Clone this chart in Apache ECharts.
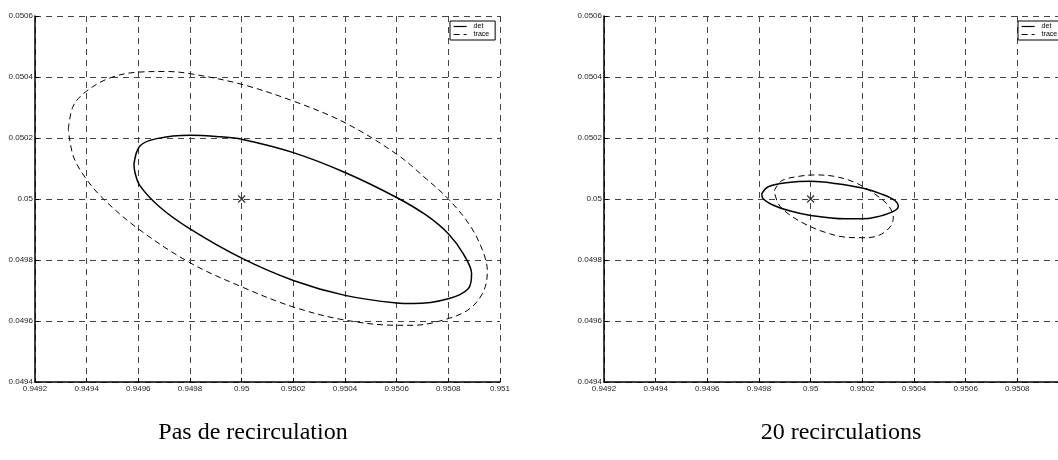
<!DOCTYPE html>
<html>
<head>
<meta charset="utf-8">
<title>Ellipses de confiance</title>
<script src="https://cdn.jsdelivr.net/npm/echarts@6/dist/echarts.min.js"></script>
<style>
  html, body { margin: 0; padding: 0; background: #fff; }
  #chart { width: 1058px; height: 460px; }
</style>
</head>
<body>
<div id="chart"></div>
<script>
// Axis ranges and tick step (both panels share them)
const xRange = [0.9492, 0.951];
const yRange = [0.0494, 0.0506];
const tickStep = 0.0002;

// Panel titles
const panelTitles = ['Pas de recirculation', '20 recirculations'];
const seriesNames = ['det', 'trace'];

// Nominal operating point
const nominalPoint = [0.95, 0.05];

// Panel 1: no recirculation — "det" ellipse (closed contour)
const detNoRecirc = [
  [0.949583, 0.050114], [0.949606, 0.050174], [0.949671, 0.050198], [0.949800, 0.050209],
  [0.949916, 0.050204], [0.950000, 0.050196], [0.950200, 0.050152], [0.950400, 0.050087],
  [0.950600, 0.050005], [0.950716, 0.049946], [0.950800, 0.049886], [0.950858, 0.049820],
  [0.950890, 0.049755], [0.950877, 0.049706], [0.950800, 0.049673], [0.950665, 0.049657],
  [0.950600, 0.049659], [0.950400, 0.049684], [0.950200, 0.049733], [0.950000, 0.049806],
  [0.949800, 0.049902], [0.949684, 0.049973], [0.949606, 0.050044], [0.949587, 0.050087],
  [0.949583, 0.050114]
];

// Panel 1: no recirculation — "trace" ellipse
const traceNoRecirc = [
  [0.949329, 0.050229], [0.949348, 0.050305], [0.949400, 0.050354], [0.949490, 0.050397],
  [0.949600, 0.050416], [0.949710, 0.050418], [0.949800, 0.050411], [0.950000, 0.050376],
  [0.950200, 0.050321], [0.950400, 0.050250], [0.950600, 0.050147], [0.950716, 0.050065],
  [0.950800, 0.050000], [0.950884, 0.049913], [0.950935, 0.049826], [0.950951, 0.049761],
  [0.950935, 0.049695], [0.950884, 0.049641], [0.950800, 0.049608], [0.950665, 0.049586],
  [0.950600, 0.049586], [0.950400, 0.049603], [0.950200, 0.049646], [0.950000, 0.049712],
  [0.949800, 0.049791], [0.949600, 0.049902], [0.949465, 0.050000], [0.949394, 0.050071],
  [0.949348, 0.050141], [0.949329, 0.050229]
];

// Panel 2: 20 recirculations — "det" ellipse
const det20 = [
  [0.949810, 0.050016], [0.949836, 0.050040], [0.949914, 0.050054], [0.950000, 0.050058],
  [0.950094, 0.050051], [0.950200, 0.050036], [0.950275, 0.050016], [0.950326, 0.049995],
  [0.950339, 0.049975], [0.950314, 0.049957], [0.950249, 0.049940], [0.950200, 0.049935],
  [0.950133, 0.049935], [0.950000, 0.049946], [0.949914, 0.049962], [0.949849, 0.049982],
  [0.949817, 0.050000], [0.949810, 0.050016]
];

// Panel 2: 20 recirculations — "trace" ellipse
const trace20 = [
  [0.949859, 0.050027], [0.949888, 0.050060], [0.949952, 0.050074], [0.950017, 0.050079],
  [0.950094, 0.050074], [0.950172, 0.050054], [0.950249, 0.050016], [0.950301, 0.049978],
  [0.950320, 0.049940], [0.950307, 0.049908], [0.950262, 0.049880], [0.950200, 0.049873],
  [0.950133, 0.049875], [0.950055, 0.049891], [0.949978, 0.049918], [0.949914, 0.049951],
  [0.949875, 0.049984], [0.949859, 0.050027]
];

const chart = echarts.init(document.getElementById('chart'), null, { renderer: 'canvas' });

const fmt = v => parseFloat(v.toFixed(4)).toString();
const labelFont = { fontFamily: 'Liberation Sans', fontSize: 8, color: '#222' };
const gridLine = { show: true, lineStyle: { color: '#444', width: 1, type: [6, 5] } };
const axisLine = { show: true, onZero: false, lineStyle: { color: '#000', width: 1.5 } };

function xAxisFor(i) {
  return {
    type: 'value', gridIndex: i, min: xRange[0], max: xRange[1], interval: tickStep,
    axisLine, splitLine: gridLine,
    axisTick: { show: true, inside: true, length: 4, lineStyle: { color: '#000' } },
    axisLabel: Object.assign({ formatter: fmt, margin: 3, showMinLabel: true, showMaxLabel: true }, labelFont)
  };
}
function yAxisFor(i) {
  return {
    type: 'value', gridIndex: i, min: yRange[0], max: yRange[1], interval: tickStep,
    axisLine, splitLine: gridLine,
    axisTick: { show: true, inside: true, length: 4, lineStyle: { color: '#000' } },
    axisLabel: Object.assign({ formatter: fmt, margin: 2, showMinLabel: true, showMaxLabel: true }, labelFont)
  };
}
function ellipse(name, data, i, dashed) {
  return {
    name, type: 'line', xAxisIndex: i, yAxisIndex: i, data,
    smooth: 0.35, symbol: 'none', showSymbol: false, silent: true, animation: false,
    color: '#000',
    itemStyle: { color: '#000' },
    lineStyle: dashed ? { color: '#000', width: 1, type: [6, 4] } : { color: '#000', width: 1.5 }
  };
}
function marker(i) {
  return {
    name: 'nominal', type: 'scatter', xAxisIndex: i, yAxisIndex: i,
    data: [nominalPoint], symbol: 'path://M0,0L10,10M10,0L0,10', symbolSize: 7,
    itemStyle: { color: 'transparent', borderColor: '#000', borderWidth: 1.2 },
    silent: true, animation: false, z: 5
  };
}
function legendAt(left) {
  return {
    left, top: 21, orient: 'vertical', data: seriesNames,
    itemWidth: 13, itemHeight: 8, itemGap: 1,
    padding: [2, 6, 2, 3], backgroundColor: '#fff',
    borderColor: '#000', borderWidth: 1, borderRadius: 0,
    selectedMode: false,
    itemStyle: { opacity: 0 },
    lineStyle: { color: '#000', width: 1.2 },
    textStyle: { fontFamily: 'Liberation Sans', fontSize: 7, color: '#000', padding: [0, 0, 0, 2] }
  };
}

chart.setOption({
  animation: false,
  backgroundColor: '#fff',
  title: [
    { text: panelTitles[0], left: 248, top: 416, textAlign: 'center',
      textStyle: { fontFamily: 'Liberation Serif', fontSize: 24, fontWeight: 'normal', color: '#000' } },
    { text: panelTitles[1], left: 836, top: 416, textAlign: 'center',
      textStyle: { fontFamily: 'Liberation Serif', fontSize: 24, fontWeight: 'normal', color: '#000' } }
  ],
  legend: [legendAt(450), legendAt(1018)],
  grid: [
    { left: 35, top: 16, width: 465, height: 366, containLabel: false, outerBoundsMode: 'none' },
    { left: 604, top: 16, width: 465, height: 366, containLabel: false, outerBoundsMode: 'none' }
  ],
  xAxis: [xAxisFor(0), xAxisFor(1)],
  yAxis: [yAxisFor(0), yAxisFor(1)],
  series: [
    ellipse(seriesNames[0], detNoRecirc, 0, false),
    ellipse(seriesNames[1], traceNoRecirc, 0, true),
    marker(0),
    ellipse(seriesNames[0], det20, 1, false),
    ellipse(seriesNames[1], trace20, 1, true),
    marker(1)
  ]
});
</script>
</body>
</html>
